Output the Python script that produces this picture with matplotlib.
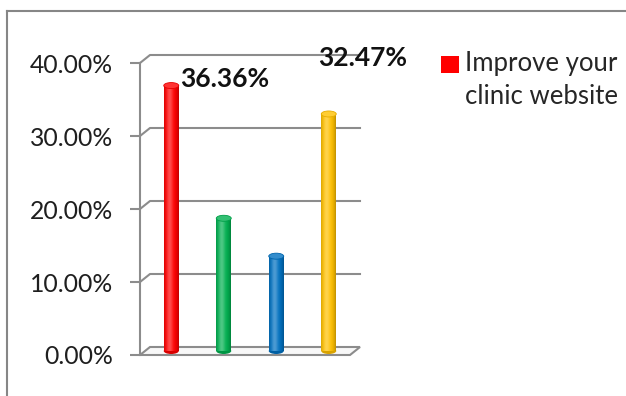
import numpy as np
import matplotlib
matplotlib.use("Agg")
import matplotlib.pyplot as plt
from matplotlib.patches import Polygon, Ellipse, Rectangle
from matplotlib.lines import Line2D
from matplotlib.ticker import FuncFormatter

plt.rcParams['font.family'] = ['Lato', 'DejaVu Sans']

# survey shares (28, 14, 10, 25 of 77 answers)
categories = ["Improve your clinic website", "B", "C", "D"]
values = [36.36, 18.18, 12.99, 32.47]
colors = ["#FF0000", "#00B050", "#0070C0", "#FFC000"]
labelled = {0: "36.36%", 3: "32.47%"}
yticks = [0, 10, 20, 30, 40]
legend_lines = ["Improve your", "clinic website"]

W, H = 626, 396
fig = plt.figure(figsize=(W / 100, H / 100), dpi=100)
ax = fig.add_axes([140 / W, 41 / H, 210 / W, 292 / H])
ax.set_xlim(-0.5, 3.5)
ax.set_ylim(0, 40)

# depth of the 3d box, in data units (about 10px right, 8px up)
dx = 10 / 52.5
dy = 8 / 7.3
grid_col = "#8c8c8c"

# floor
floor = Polygon([(-0.5, 0), (3.5, 0), (3.5 + dx, dy), (-0.5 + dx, dy)],
                closed=True, facecolor="#f8f8f8", edgecolor=grid_col,
                linewidth=1.5, clip_on=False, zorder=1)
ax.add_patch(floor)

# back wall gridlines with the side wall diagonal
for yv in yticks[1:]:
    ax.plot([-0.5, -0.5 + dx, 3.5 + dx], [yv, yv + dy, yv + dy],
            color=grid_col, linewidth=1.5, clip_on=False, zorder=1)


def shade(rgb, t):
    # cylinder shading: highlight a bit left of centre, darker edges
    hl = np.exp(-((t - 0.38) / 0.22) ** 2) * 0.3
    dk = (np.abs(t - 0.45) / 0.55) ** 3 * 0.25
    col = rgb[None, :] * (1 - dk[:, None])
    col = col + (1 - col) * hl[:, None]
    return np.clip(col, 0, 1)


bw = 15 / 52.5
eh = 6 / 7.3
for i, (v, c) in enumerate(zip(values, colors)):
    xc = i + dx / 2
    base = dy / 2
    top = v + dy / 2
    rgb = np.array(matplotlib.colors.to_rgb(c))
    t = np.linspace(0, 1, 40)
    img = shade(rgb, t)[None, :, :]
    # rounded bottom
    ax.add_patch(Ellipse((xc, base), bw, eh, facecolor=rgb * 0.85,
                         edgecolor="none", zorder=2, clip_on=False))
    ax.imshow(img, extent=(xc - bw / 2, xc + bw / 2, base, top),
              aspect="auto", zorder=3, clip_on=False, interpolation="bilinear")
    topcol = rgb + (1 - rgb) * 0.2
    ax.add_patch(Ellipse((xc, top), bw, eh, facecolor=topcol,
                         edgecolor=rgb * 0.9, linewidth=0.6, zorder=4, clip_on=False))

ax.set_xlim(-0.5, 3.5)
ax.set_ylim(0, 40)

# data labels
ax.annotate(labelled[0], xy=(0 + dx / 2, values[0] + dy / 2), xytext=(9, 7),
            textcoords="offset pixels", ha="left", va="center",
            fontsize=19, fontweight="bold", color="#111111", zorder=5,
            annotation_clip=False)
ax.annotate(labelled[3], xy=(3 + dx / 2, values[3] + dy / 2), xytext=(34, 56),
            textcoords="offset pixels", ha="center", va="center",
            fontsize=19, fontweight="bold", color="#111111", zorder=5,
            annotation_clip=False)

# axis styling
for s in ["top", "right", "bottom"]:
    ax.spines[s].set_visible(False)
ax.spines["left"].set_color(grid_col)
ax.spines["left"].set_linewidth(1.5)
ax.set_xticks([])
ax.set_yticks(yticks)
ax.yaxis.set_major_formatter(FuncFormatter(lambda y, p: "%.2f%%" % y))
ax.tick_params(axis="y", length=7.2, width=1.5, color=grid_col, pad=12,
               labelsize=17.8, labelcolor="#1f1f1f")
ax.set_facecolor("none")

# legend (only first series shown)
fig.add_artist(Rectangle((441 / W, 1 - 73 / H), 18 / W, 17 / H,
                         transform=fig.transFigure, facecolor=colors[0],
                         edgecolor="none"))
fig.text(465 / W, 1 - 64 / H, legend_lines[0], ha="left", va="center",
         fontsize=18.5, color="#262626")
fig.text(465 / W, 1 - 96 / H, legend_lines[1], ha="left", va="center",
         fontsize=18.5, color="#262626")

# chart frame (left and top edges visible)
fig.add_artist(Line2D([7 / W, 7 / W], [0, 1 - 11 / H], transform=fig.transFigure,
                      color="#868686", linewidth=1.5))
fig.add_artist(Line2D([7 / W, 1], [1 - 11 / H, 1 - 11 / H], transform=fig.transFigure,
                      color="#868686", linewidth=1.5))

fig.savefig("out.png", dpi=100)
